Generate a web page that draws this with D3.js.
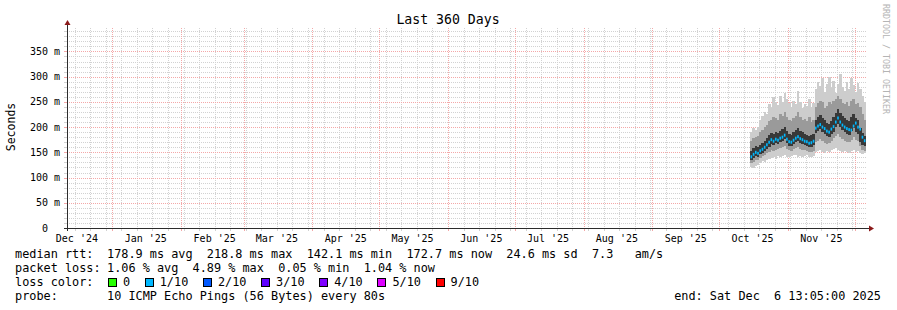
<!doctype html>
<html>
<head>
<meta charset="utf-8">
<title>Last 360 Days</title>
<script src="https://d3js.org/d3.v7.min.js"></script>
<style>
  body { margin: 0; background: #fff; }
  text { font-family: "DejaVu Sans Mono", monospace; white-space: pre; }
</style>
</head>
<body>
<div id="chart"></div>
<script>
// time window of the graph (UTC)
var tStart = new Date(Date.UTC(2024, 11, 11, 13, 5));
var tEnd = new Date(Date.UTC(2025, 11, 6, 13, 5));
var firstDay = new Date(Date.UTC(2025, 9, 15));

// daily rtt values in ms
var median = [141,146,150,148,153,156,160,165,170,175,172,176,174,178,180,184,176,171,170,174,
              178,181,177,175,172,171,168,169,172,198,202,205,200,197,192,190,196,201,210,218,
              210,204,200,197,195,194,202,208,200,196,180,173];
var pingMin = [120,118,122,125, 128,132,130,135, 136,138,140,137,142, 140,143,145,141,140,
               142,144,145,141,143,140,142,144,141,140,143,
               150,152,155,150,148,152,150,154,156,158,155,152,150,153,150,148,152,155,150,152,148,146,148];
var pingMax = [190,198,195,200, 215,222,230,226, 245,238,260,250,244, 262,250,268,255,248,
               240,252,245,272,250,238,246,242,255,240,248,
               275,290,282,298,270,286,300,278,292,268,285,305,280,272,290,276,298,284,270,288,275,262,250];
var ping2 = [128,130,134,135, 138,142,144,148, 150,154,152,155,156, 158,160,162,156,154,
             153,156,158,160,157,155,154,152,150,151,153,
             170,172,176,172,168,166,168,172,178,182,186,180,176,172,170,170,175,180,174,172,162,155,152];
var ping9 = [172,178,180,182, 190,195,200,204, 212,215,220,218,214, 225,222,230,220,215,
             212,218,222,230,220,214,216,212,220,210,215,
             240,248,252,250,238,242,250,246,252,255,262,255,248,245,250,242,252,256,245,248,240,225,215];
var ping4 = [135,139,143,141, 146,149,152,157, 161,166,164,168,166, 170,172,176,168,163,
             162,166,170,173,169,167,164,163,160,161,164,
             188,192,196,190,187,182,180,186,191,200,207,200,194,190,187,185,192,198,190,186,170,164,162];
var ping7 = [152,158,162,160, 165,168,172,178, 184,188,186,190,188, 193,196,200,192,186,
             185,190,194,198,192,190,186,185,182,184,187,
             215,220,224,218,214,208,206,213,220,228,236,228,222,218,214,212,220,226,218,214,198,188,183];

// legend
var lossLabels = ["0", "1/10", "2/10", "3/10", "4/10", "5/10", "9/10"];
var lossColors = ["#26ff00", "#00b8ff", "#0059ff", "#5e00ff", "#7e00ff", "#dd00ff", "#ff0000"];
var rttLine = "178.9 ms avg  218.8 ms max  142.1 ms min  172.7 ms now  24.6 ms sd  7.3   am/s";
var lossLine = "1.06 % avg  4.89 % max  0.05 % min  1.04 % now";
var probeLine = "10 ICMP Echo Pings (56 Bytes) every 80s";
var endLine = "end: Sat Dec  6 13:05:00 2025";

var W = 897, H = 310;
var cLeft = 67, cRight = 867, cTop = 28, cBottom = 228;

var svg = d3.select("#chart").append("svg")
    .attr("width", W)
    .attr("height", H);

var x = d3.scaleUtc().domain([tStart, tEnd]).range([cLeft, cRight]);
var y = d3.scaleLinear().domain([0, 396.4]).range([cBottom, cTop]);

function px(v) { return Math.round(v) + 0.5; }

var rows = median.map(function(m, i) {
    var d0 = d3.utcDay.offset(firstDay, i);
    return { t0: d0, t1: d3.utcDay.offset(d0, 1), med: m,
             bands: [[pingMin[i], pingMax[i]], [ping2[i], ping9[i]], [ping4[i], ping7[i]]] };
});

// ---- grid ----
var grid = svg.append("g").attr("shape-rendering", "crispEdges");

var minorY = d3.range(10, 396, 10).filter(function(v) { return v % 50 != 0; });
var majorY = d3.range(50, 396, 50);
var minorX = d3.utcSunday.range(tStart, tEnd);
var majorX = d3.utcMonth.range(tStart, tEnd);

var gridGray = "#d2d2d2", gridRed = "#f4a8a8";

grid.selectAll(".minY").data(minorY).enter().append("line")
    .attr("x1", cLeft).attr("x2", cRight)
    .attr("y1", function(d) { return px(y(d)); }).attr("y2", function(d) { return px(y(d)); })
    .attr("stroke", gridGray).attr("stroke-dasharray", "1,1");
grid.selectAll(".minX").data(minorX).enter().append("line")
    .attr("y1", cTop).attr("y2", cBottom)
    .attr("x1", function(d) { return px(x(d)); }).attr("x2", function(d) { return px(x(d)); })
    .attr("stroke", gridGray).attr("stroke-dasharray", "1,1");
grid.selectAll(".majY").data(majorY).enter().append("line")
    .attr("x1", cLeft).attr("x2", cRight)
    .attr("y1", function(d) { return px(y(d)); }).attr("y2", function(d) { return px(y(d)); })
    .attr("stroke", gridRed).attr("stroke-dasharray", "1,1");
grid.selectAll(".majX").data(majorX).enter().append("line")
    .attr("y1", cTop).attr("y2", cBottom)
    .attr("x1", function(d) { return px(x(d)); }).attr("x2", function(d) { return px(x(d)); })
    .attr("stroke", gridRed).attr("stroke-dasharray", "1,1");

// small ticks outside the canvas
grid.selectAll(".tickY").data(minorY.concat(majorY)).enter().append("line")
    .attr("x1", cLeft - 3).attr("x2", cLeft)
    .attr("y1", function(d) { return px(y(d)); }).attr("y2", function(d) { return px(y(d)); })
    .attr("stroke", function(d) { return d % 50 == 0 ? gridRed : gridGray; });
grid.selectAll(".tickX").data(minorX.concat(majorX)).enter().append("line")
    .attr("y1", cBottom).attr("y2", cBottom + 3)
    .attr("x1", function(d) { return px(x(d)); }).attr("x2", function(d) { return px(x(d)); })
    .attr("stroke", function(d) { return d.getUTCDate() == 1 ? gridRed : gridGray; });

// ---- smoke ----
var smokeColors = ["#cdcdcd", "#9a9a9a", "#383838"];
var smoke = svg.append("g").attr("shape-rendering", "crispEdges");
[0, 1, 2].forEach(function(k) {
    smoke.selectAll(".s" + k).data(rows).enter().append("rect")
        .attr("x", function(d) { return x(d.t0); })
        .attr("width", function(d) { return x(d.t1) - x(d.t0) + 0.3; })
        .attr("y", function(d) { return y(d.bands[k][1]); })
        .attr("height", function(d) { return y(d.bands[k][0]) - y(d.bands[k][1]); })
        .attr("fill", smokeColors[k]);
});

// median, coloured by loss (all days in the 1/10 class)
svg.append("g").selectAll("rect").data(rows).enter().append("rect")
    .attr("x", function(d) { return x(d.t0) + 0.3; })
    .attr("width", 1.6)
    .attr("y", function(d) { return y(d.med) - 1.5; })
    .attr("height", 3)
    .attr("fill", lossColors[1]);

// ---- axes ----
var axisColor = "#2c2c2c", arrowColor = "#8b1a1a";
svg.append("line").attr("x1", cLeft + 0.5).attr("x2", cLeft + 0.5)
    .attr("y1", cBottom + 3).attr("y2", cTop - 4)
    .attr("stroke", axisColor).attr("shape-rendering", "crispEdges");
svg.append("line").attr("x1", cLeft - 3).attr("x2", cRight + 3)
    .attr("y1", cBottom + 0.5).attr("y2", cBottom + 0.5)
    .attr("stroke", axisColor).attr("shape-rendering", "crispEdges");
svg.append("path")
    .attr("d", "M" + (cLeft - 2.5) + "," + (cTop - 3) + "L" + (cLeft + 0.5) + "," + (cTop - 8) + "L" + (cLeft + 3.5) + "," + (cTop - 3) + "Z")
    .attr("fill", arrowColor);
svg.append("path")
    .attr("d", "M" + (cRight + 2) + "," + (cBottom - 2.5) + "L" + (cRight + 7) + "," + (cBottom + 0.5) + "L" + (cRight + 2) + "," + (cBottom + 3.5) + "Z")
    .attr("fill", arrowColor);

// y labels
svg.append("g").selectAll("text").data(majorY.concat([0])).enter().append("text")
    .attr("x", function(d) { return d == 0 ? 48 : 60; })
    .attr("y", function(d) { return y(d) + 3.5; })
    .attr("text-anchor", "end")
    .attr("font-size", "10px")
    .text(function(d) { return d == 0 ? "0" : d + " m"; });

// x labels, centred in the month
var fmt = d3.utcFormat("%b '%y");
var monthLabels = d3.utcMonth.range(d3.utcMonth.floor(tStart), tEnd)
    .map(function(m) { return d3.utcDay.offset(m, 15); })
    .filter(function(d) { return d < tEnd; });
svg.append("g").selectAll("text").data(monthLabels).enter().append("text")
    .attr("x", function(d) { return x(d); })
    .attr("y", 241.5)
    .attr("text-anchor", "middle")
    .attr("font-size", "10px")
    .text(function(d) { return fmt(d); });

// title and side texts
svg.append("text").attr("x", 448).attr("y", 24)
    .attr("text-anchor", "middle").attr("font-size", "13.2px")
    .text("Last 360 Days");
svg.append("text").attr("transform", "translate(15,127) rotate(-90)")
    .attr("text-anchor", "middle").attr("font-size", "11.5px")
    .text("Seconds");
svg.append("text").attr("transform", "translate(883,4) rotate(90)")
    .attr("font-size", "8.3px").attr("fill", "#b4b4b4")
    .text("RRDTOOL / TOBI OETIKER");

// ---- legend ----
var lg = svg.append("g").attr("font-size", "11.85px");
var colX = 107;
lg.append("text").attr("x", 15).attr("y", 258).text("median rtt:");
lg.append("text").attr("x", colX).attr("y", 258).text(rttLine);
lg.append("text").attr("x", 15).attr("y", 272).text("packet loss:");
lg.append("text").attr("x", colX).attr("y", 272).text(lossLine);
lg.append("text").attr("x", 15).attr("y", 286).text("loss color:");
lg.append("text").attr("x", 15).attr("y", 300).text("probe:");
lg.append("text").attr("x", colX).attr("y", 300).text(probeLine);
lg.append("text").attr("x", 881).attr("y", 300).attr("text-anchor", "end").text(endLine);

var bx = 108.5;
lossLabels.forEach(function(lab, i) {
    lg.append("rect").attr("x", bx).attr("y", 278.5).attr("width", 8).attr("height", 8)
        .attr("fill", lossColors[i]).attr("stroke", "#000").attr("shape-rendering", "crispEdges");
    lg.append("text").attr("x", bx + 14.5).attr("y", 286).text(lab);
    bx += 15 + lab.length * 7.14 + 14.6;
});
</script>
</body>
</html>
